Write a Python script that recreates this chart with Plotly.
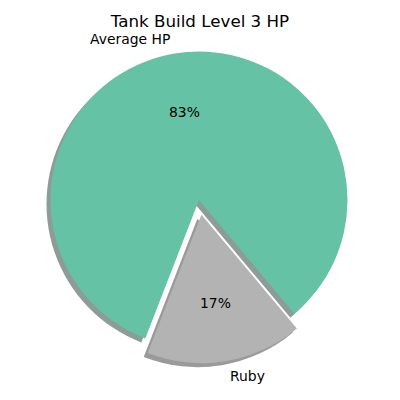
import math
import plotly.graph_objects as go

# ---- data ----
labels = ["Average HP", "Ruby"]
values = [83, 17]
colors = ["#66c2a5", "#b3b3b3"]
explode = [0, 0.1]
title_text = "Tank Build Level 3 HP"
startangle = -50  # matplotlib convention (deg, ccw from +x)

# ---- geometry (pixels) ----
W = H = 400
cx, cy = 199, 200
R = 148.5
max_pull = max(explode)
box = 2 * R * (1 + max_pull)
shadow_off = 4

def dom(dx=0, dy=0):
    x0 = (cx - box / 2 + dx) / W
    x1 = (cx + box / 2 + dx) / W
    y0 = (H - cy - box / 2 - dy) / H
    y1 = (H - cy + box / 2 - dy) / H
    return dict(x=[x0, x1], y=[y0, y1])

total = sum(values)
rotation = 90 - startangle - 360 * values[0] / total

shadow_cols = []
for c in colors:
    r, g, b = int(c[1:3], 16), int(c[3:5], 16), int(c[5:7], 16)
    shadow_cols.append(f"rgba({int(.3*r)},{int(.3*g)},{int(.3*b)},0.5)")

fig = go.Figure()
fig.add_trace(go.Pie(labels=labels, values=values, sort=False, direction="counterclockwise",
                     rotation=rotation, pull=explode, marker=dict(colors=shadow_cols, line=dict(width=0)),
                     textinfo="none", hoverinfo="skip", domain=dom(-shadow_off, shadow_off),
                     showlegend=False))
fig.add_trace(go.Pie(labels=labels, values=values, sort=False, direction="counterclockwise",
                     rotation=rotation, pull=explode, marker=dict(colors=colors, line=dict(width=0)),
                     textinfo="none", domain=dom(), showlegend=False))

# labels and percentages, placed like matplotlib's pie
font = dict(family="DejaVu Sans", size=13.9, color="black")
theta = startangle
for lab, v, ex in zip(labels, values, explode):
    span = 360 * v / total
    mid = math.radians(theta + span / 2)
    theta += span
    ox = cx + ex * R * math.cos(mid)
    oy = cy - ex * R * math.sin(mid)
    lx = ox + 1.1 * R * math.cos(mid)
    ly = oy - 1.1 * R * math.sin(mid)
    fig.add_annotation(x=lx / W, y=1 - ly / H, xref="paper", yref="paper", text=lab,
                       showarrow=False, xanchor="left" if lx > cx else "right", yanchor="middle", font=font)
    px = ox + 0.6 * R * math.cos(mid)
    py = oy - 0.6 * R * math.sin(mid)
    fig.add_annotation(x=px / W, y=1 - py / H, xref="paper", yref="paper",
                       text=f"{100 * v / total:.0f}%", showarrow=False,
                       xanchor="center", yanchor="middle", font=font)

fig.update_layout(
    width=W, height=H, margin=dict(l=0, r=0, t=0, b=0),
    paper_bgcolor="white", plot_bgcolor="white",
    title=dict(text=title_text, x=0.5, xanchor="center", y=1 - 21 / H, yanchor="middle",
               font=dict(family="DejaVu Sans", size=16.7, color="black")),
)
fig.write_html("out.html")
